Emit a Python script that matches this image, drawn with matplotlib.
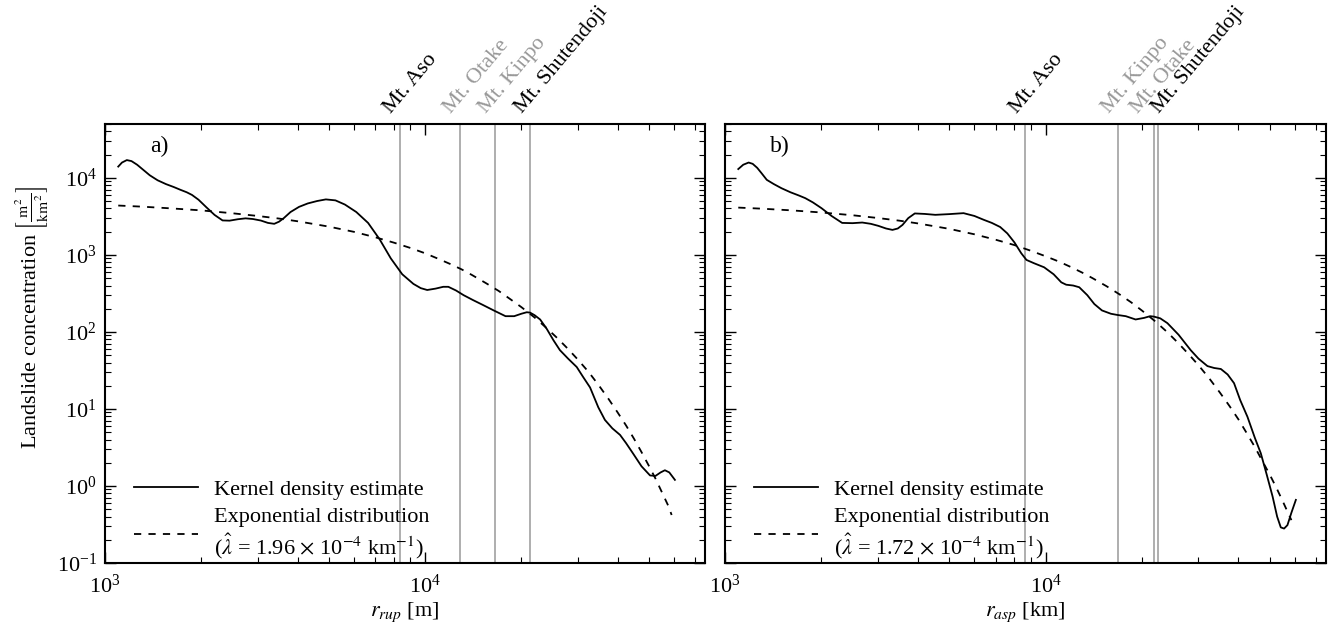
import matplotlib
matplotlib.use("Agg")
import matplotlib.pyplot as plt
from matplotlib.ticker import LogLocator, NullFormatter, LogFormatterSciNotation

plt.rcParams['font.family'] = ['Liberation Serif', 'DejaVu Serif']
plt.rcParams['mathtext.fontset'] = 'stix'
plt.rcParams['axes.unicode_minus'] = False

# ---------------- data ----------------
# Panel a: distance to rupture (m)
kde_a_r = [1100, 1130, 1170, 1210, 1260, 1320, 1380, 1460, 1550, 1640, 1720, 1800, 1870,
           1960, 2080, 2200, 2330, 2450, 2600, 2750, 2900, 3070, 3230, 3380, 3500, 3620,
           3800, 4040, 4300, 4600, 4900, 5250, 5620, 6100, 6640, 7210, 7820, 8490, 9200,
           9700, 10160, 10800, 11400, 11830, 12500, 13200, 14100, 15130, 16400, 17850,
           19000, 20000, 20800, 21300, 22000, 22900, 24000, 25200, 26400, 28000, 29800,
           31200, 32800, 34800, 36500, 38500, 40700, 42500, 44800, 47500, 50500, 52500,
           54500, 56200, 58000, 60400]
kde_a_v = [14000, 15800, 17000, 16500, 14800, 12600, 10800, 9300, 8300, 7600, 7000, 6500, 6000,
           5200, 4100, 3300, 2800, 2780, 2900, 2980, 2920, 2790, 2600, 2530, 2700, 3000,
           3600, 4200, 4650, 5000, 5250, 5100, 4500, 3600, 2600, 1600, 900, 560, 420,
           370, 350, 365, 385, 385, 345, 300, 260, 225, 190, 160,
           160, 172, 180, 178, 165, 145, 110, 78, 58, 45, 35,
           26, 19, 10.5, 7.2, 5.6, 4.6, 3.6, 2.6, 1.8, 1.37, 1.35,
           1.5, 1.6, 1.5, 1.2]

exp_a_r = [1100, 1300, 1600, 2000, 2500, 3000, 3500, 4000, 5000, 6000, 7000, 8000, 9000,
           10000, 11000, 12000, 13000, 14000, 15500, 17000, 18500, 20000, 22000, 24000,
           26000, 28000, 30000, 32500, 35000, 37500, 40000, 42500, 45000, 47500, 50000,
           52500, 55000, 57500, 59000]
exp_a_v = [4370, 4230, 4020, 3780, 3470, 3200, 2960, 2730, 2330, 1990, 1690, 1440, 1230,
           1050, 890, 760, 650, 550, 430, 340, 265, 210, 154, 112,
           82, 60, 44, 30, 20, 13.4, 9.0, 6.1, 4.1, 2.75, 1.85,
           1.25, 0.83, 0.56, 0.42]

# Panel b: distance to asperity
kde_b_r = [1100, 1140, 1185, 1220, 1260, 1300, 1350, 1420, 1500, 1600, 1700, 1780, 1880,
           2000, 2150, 2320, 2500, 2680, 2850, 3010, 3180, 3330, 3460, 3580, 3730, 3910,
           4200, 4530, 5000, 5550, 6000, 6420, 6800, 7220, 7600, 8000, 8400, 8720, 9200,
           9900, 10600, 11200, 11600, 12200, 12740, 13500, 14200, 15000, 16000, 16750,
           17800, 19100, 20300, 21200, 21780, 22800, 24000, 26000, 28370, 30000, 32000,
           33600, 35240, 37000, 38740, 40500, 42660, 45000, 46950, 49000, 51100, 52800,
           54200, 55500, 56850, 58500, 60400]
kde_b_v = [13000, 14800, 15800, 15200, 13500, 11500, 9420, 8300, 7340, 6500, 5900, 5450, 4800,
           4040, 3200, 2600, 2580, 2630, 2530, 2380, 2200, 2110, 2200, 2450, 3000, 3450,
           3400, 3310, 3380, 3480, 3200, 2850, 2600, 2300, 1900, 1450, 1050, 860, 780,
           690, 560, 440, 410, 400, 380, 300, 230, 190, 172, 166,
           160, 145, 152, 160, 158, 150, 130, 92, 58, 45, 36,
           34, 33, 28, 21.6, 13, 7.9, 4.2, 2.66, 1.4, 0.73, 0.4,
           0.29, 0.28, 0.31, 0.45, 0.66]

exp_b_r = [1100, 1300, 1600, 2000, 2500, 3000, 3500, 4000, 5000, 6000, 7000, 8000, 9000,
           10000, 11000, 12000, 13000, 14000, 15500, 17000, 18500, 20000, 22000, 24000,
           26000, 28000, 30000, 32500, 35000, 37500, 40000, 42500, 45000, 47500, 50000,
           52500, 55000, 57500, 58500]
exp_b_v = [4110, 3980, 3790, 3550, 3270, 3010, 2780, 2560, 2180, 1850, 1570, 1340, 1130,
           960, 820, 695, 590, 500, 392, 308, 242, 189, 137, 99,
           71, 51, 37, 24.6, 16.3, 10.9, 7.3, 4.8, 3.2, 2.1, 1.42,
           0.95, 0.63, 0.42, 0.36]

mountains_a = ['Mt. Aso', 'Mt. Otake', 'Mt. Kinpo', 'Mt. Shutendoji']
mount_a_r = [8350, 12850, 16540, 21300]
mount_a_col = ['black', '#999999', '#999999', 'black']
mount_a_dx = [-5, -5, -5, -4]

mountains_b = ['Mt. Aso', 'Mt. Kinpo', 'Mt. Otake', 'Mt. Shutendoji']
mount_b_r = [8660, 16790, 21830, 22390]
mount_b_col = ['black', '#999999', '#999999', 'black']
mount_b_dx = [-5, -5, -12, 5]

labels_leg_a = ['Kernel density estimate',
                'Exponential distribution\n($\\hat{\\lambda}$ = 1.96 $\\times$ 10$^{-4}$ km$^{-1}$)']
labels_leg_b = ['Kernel density estimate',
                'Exponential distribution\n($\\hat{\\lambda}$ = 1.72 $\\times$ 10$^{-4}$ km$^{-1}$)']

FS = 16
W, H = 1335, 625
fig = plt.figure(figsize=(W / 100, H / 100), dpi=100)
ax_a = fig.add_axes([105 / W, 1 - 563 / H, 600 / W, 439 / H])
ax_b = fig.add_axes([725 / W, 1 - 563 / H, 601 / W, 439 / H])


def style(ax):
    ax.set_xscale('log')
    ax.set_yscale('log')
    ax.set_xlim(1e3, 7.5e4)
    ax.set_ylim(0.1, 5e4)
    ax.yaxis.set_major_locator(LogLocator(base=10, numticks=20))
    ax.yaxis.set_minor_locator(LogLocator(base=10, subs=range(2, 10), numticks=50))
    ax.xaxis.set_major_locator(LogLocator(base=10, numticks=20))
    ax.xaxis.set_minor_locator(LogLocator(base=10, subs=range(2, 10), numticks=50))
    ax.xaxis.set_minor_formatter(NullFormatter())
    ax.yaxis.set_minor_formatter(NullFormatter())
    ax.xaxis.set_major_formatter(LogFormatterSciNotation())
    ax.yaxis.set_major_formatter(LogFormatterSciNotation())
    ax.tick_params(which='both', direction='in', top=True, right=True, labelsize=FS)
    ax.tick_params(which='major', length=8, width=1.0)
    ax.tick_params(which='minor', length=4, width=0.8)
    ax.tick_params(axis='x', which='major', pad=8)
    ax.tick_params(axis='y', which='major', pad=6)
    for s in ax.spines.values():
        s.set_linewidth(1.5)


for ax, kr, kv, er, ev, names, mr, mc, mdx, legl, tag in [
        (ax_a, kde_a_r, kde_a_v, exp_a_r, exp_a_v, mountains_a, mount_a_r, mount_a_col,
         mount_a_dx, labels_leg_a, 'a)'),
        (ax_b, kde_b_r, kde_b_v, exp_b_r, exp_b_v, mountains_b, mount_b_r, mount_b_col,
         mount_b_dx, labels_leg_b, 'b)')]:
    style(ax)
    for r in mr:
        ax.axvline(r, color='#a8a8a8', lw=1.3, zorder=1)
    l1, = ax.plot(kr, kv, color='black', lw=1.3, zorder=3)
    l2, = ax.plot(er, ev, color='black', lw=1.3, ls=(0, (4, 4)), zorder=3)
    for name, r, c, dx in zip(names, mr, mc, mdx):
        ax.annotate(name, xy=(r, 1.0), xycoords=('data', 'axes fraction'),
                    xytext=(dx, 7), textcoords='offset pixels', rotation=50,
                    rotation_mode='anchor', ha='left', va='bottom', color=c,
                    fontsize=FS, annotation_clip=False)
    ax.text(0.075, 0.948, tag, transform=ax.transAxes, fontsize=17, ha='left', va='center')
    ax.legend([l1, l2], legl, loc='lower left', bbox_to_anchor=(0.044, 0.0),
              frameon=False, fontsize=FS, handlelength=2.9, handletextpad=0.7,
              borderaxespad=0.0, borderpad=0.1, labelspacing=0.35)

ax_b.tick_params(labelleft=False)
ax_a.set_xlabel(r'$r_{rup}$ [m]', fontsize=FS, labelpad=2)
ax_b.set_xlabel(r'$r_{asp}$ [km]', fontsize=FS, labelpad=2)
ax_a.set_ylabel(r'Landslide concentration $\left[\frac{\mathrm{m}^2}{\mathrm{km}^2}\right]$',
                fontsize=FS, labelpad=8)
ax_a.yaxis.set_label_coords(-0.09, 0.56)

fig.savefig('out.png', dpi=100)
